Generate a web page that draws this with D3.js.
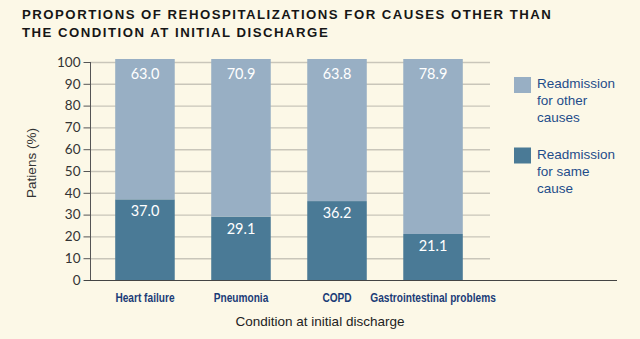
<!DOCTYPE html>
<html><head><meta charset="utf-8">
<script src="https://cdn.jsdelivr.net/npm/d3@7"></script>
<style>
html,body{margin:0;padding:0;background:#FCF8E7;}
svg{display:block;}
</style></head>
<body>
<svg id="chart" width="640" height="339"></svg>
<script>
const categories = ["Heart failure", "Pneumonia", "COPD", "Gastrointestinal problems"];
const sameCause = [37.0, 29.1, 36.2, 21.1];
const otherCauses = [63.0, 70.9, 63.8, 78.9];
const seriesNames = ["Readmission for same cause", "Readmission for other causes"];
const legendLines = [["Readmission", "for other", "causes"], ["Readmission", "for same", "cause"]];
const yTicks = [0,10,20,30,40,50,60,70,80,90,100];
const titleLines = ["PROPORTIONS OF REHOSPITALIZATIONS FOR CAUSES OTHER THAN", "THE CONDITION AT INITIAL DISCHARGE"];

const svg = d3.select("#chart");
const colDark = "#4A7A96", colLight = "#98AFC4";

const x = d3.scaleBand().domain(categories).range([96, 482]).paddingInner(0.38).paddingOuter(0.2);
const y = d3.scaleLinear().domain([0, 100]).range([280, 62]);

// title
svg.append("g").selectAll("text").data(titleLines).join("text")
  .attr("x", 22).attr("y", (d,i)=>19 + i*18)
  .attr("font-family", "Liberation Sans, Arial, sans-serif")
  .attr("font-weight", "bold").attr("font-size", 13.2).attr("letter-spacing", 1.5)
  .attr("fill", "#161616").text(d=>d);

// gridlines
svg.append("g").selectAll("line").data(yTicks.filter(d=>d>0)).join("line")
  .attr("x1", 90).attr("x2", 490).attr("y1", d=>y(d)+0.5).attr("y2", d=>y(d)+0.5)
  .attr("stroke", "#C9C6BA").attr("stroke-width", 1.4);

// y axis
const yAxis = d3.axisLeft(y).tickValues(yTicks).tickSize(7).tickPadding(3).tickFormat(d3.format("d"));
const ga = svg.append("g").attr("transform", "translate(90.5,0)").call(yAxis);
ga.select(".domain").attr("stroke", "#555").attr("d", "M0," + y(100) + "V" + y(0));
ga.selectAll(".tick line").attr("stroke", "#555");
ga.selectAll(".tick text").attr("font-family", "Lato, 'Open Sans', sans-serif").attr("font-size", 13.5).attr("fill", "#333");

// stacked bars
const stackData = categories.map((c,i)=>({cat:c, same:sameCause[i], other:otherCauses[i]}));
const stack = d3.stack().keys(["same","other"])(stackData);
const colors = {same: colDark, other: colLight};
const gb = svg.append("g");
stack.forEach(layer => {
  gb.append("g").selectAll("rect").data(layer).join("rect")
    .attr("x", d=>x(d.data.cat)).attr("width", x.bandwidth())
    .attr("y", d=>y(d[1]) - (layer.key==="other"?3:0))
    .attr("height", d=>y(d[0]) - y(d[1]) + (layer.key==="other"?3:0))
    .attr("fill", colors[layer.key]);
  gb.append("g").selectAll("text").data(layer).join("text")
    .attr("x", d=>x(d.data.cat) + x.bandwidth()/2)
    .attr("y", d=>y(d[1]) + 17)
    .attr("text-anchor", "middle").attr("font-family", "Lato, 'Open Sans', sans-serif")
    .attr("font-size", 14.5).attr("fill", "#fff")
    .text(d=>(d[1]-d[0]).toFixed(1));
});

// baseline
svg.append("line").attr("x1", 84).attr("x2", 617).attr("y1", 280.5).attr("y2", 280.5)
  .attr("stroke", "#444").attr("stroke-width", 1.2);

// category labels (condensed)
const sx = 0.78;
svg.append("g").selectAll("text").data(categories).join("text")
  .attr("transform", d=>`translate(${x(d) + x.bandwidth()/2},302) scale(${sx},1)`)
  .attr("text-anchor", "middle")
  .attr("font-family", "'Liberation Sans', Arial, sans-serif")
  .attr("font-weight", "bold").attr("font-size", 13).attr("fill", "#1B3C77")
  .text(d=>d);

// axis titles
svg.append("text").attr("x", 320).attr("y", 326).attr("text-anchor", "middle")
  .attr("font-family", "'Liberation Sans', Arial, sans-serif").attr("font-size", 13.5).attr("fill", "#222")
  .text("Condition at initial discharge");
svg.append("text").attr("transform", "translate(36,163) rotate(-90)").attr("text-anchor", "middle")
  .attr("font-family", "'Liberation Sans', Arial, sans-serif").attr("font-size", 13.5).attr("fill", "#333")
  .text("Patiens (%)");

// legend
const legCols = [colLight, colDark];
const lg = svg.append("g").selectAll("g").data(legendLines).join("g")
  .attr("transform", (d,i)=>`translate(514,${77 + i*70.5})`);
lg.append("rect").attr("width", 17).attr("height", 16).attr("fill", (d,i)=>legCols[i]);
lg.each(function(lines){
  d3.select(this).selectAll("text").data(lines).join("text")
    .attr("x", 23).attr("y", (d,j)=>11 + j*17)
    .attr("font-family", "'Liberation Sans', Arial, sans-serif").attr("font-size", 13.5).attr("fill", "#1F4D8A")
    .text(d=>d);
});
</script>
</body></html>
